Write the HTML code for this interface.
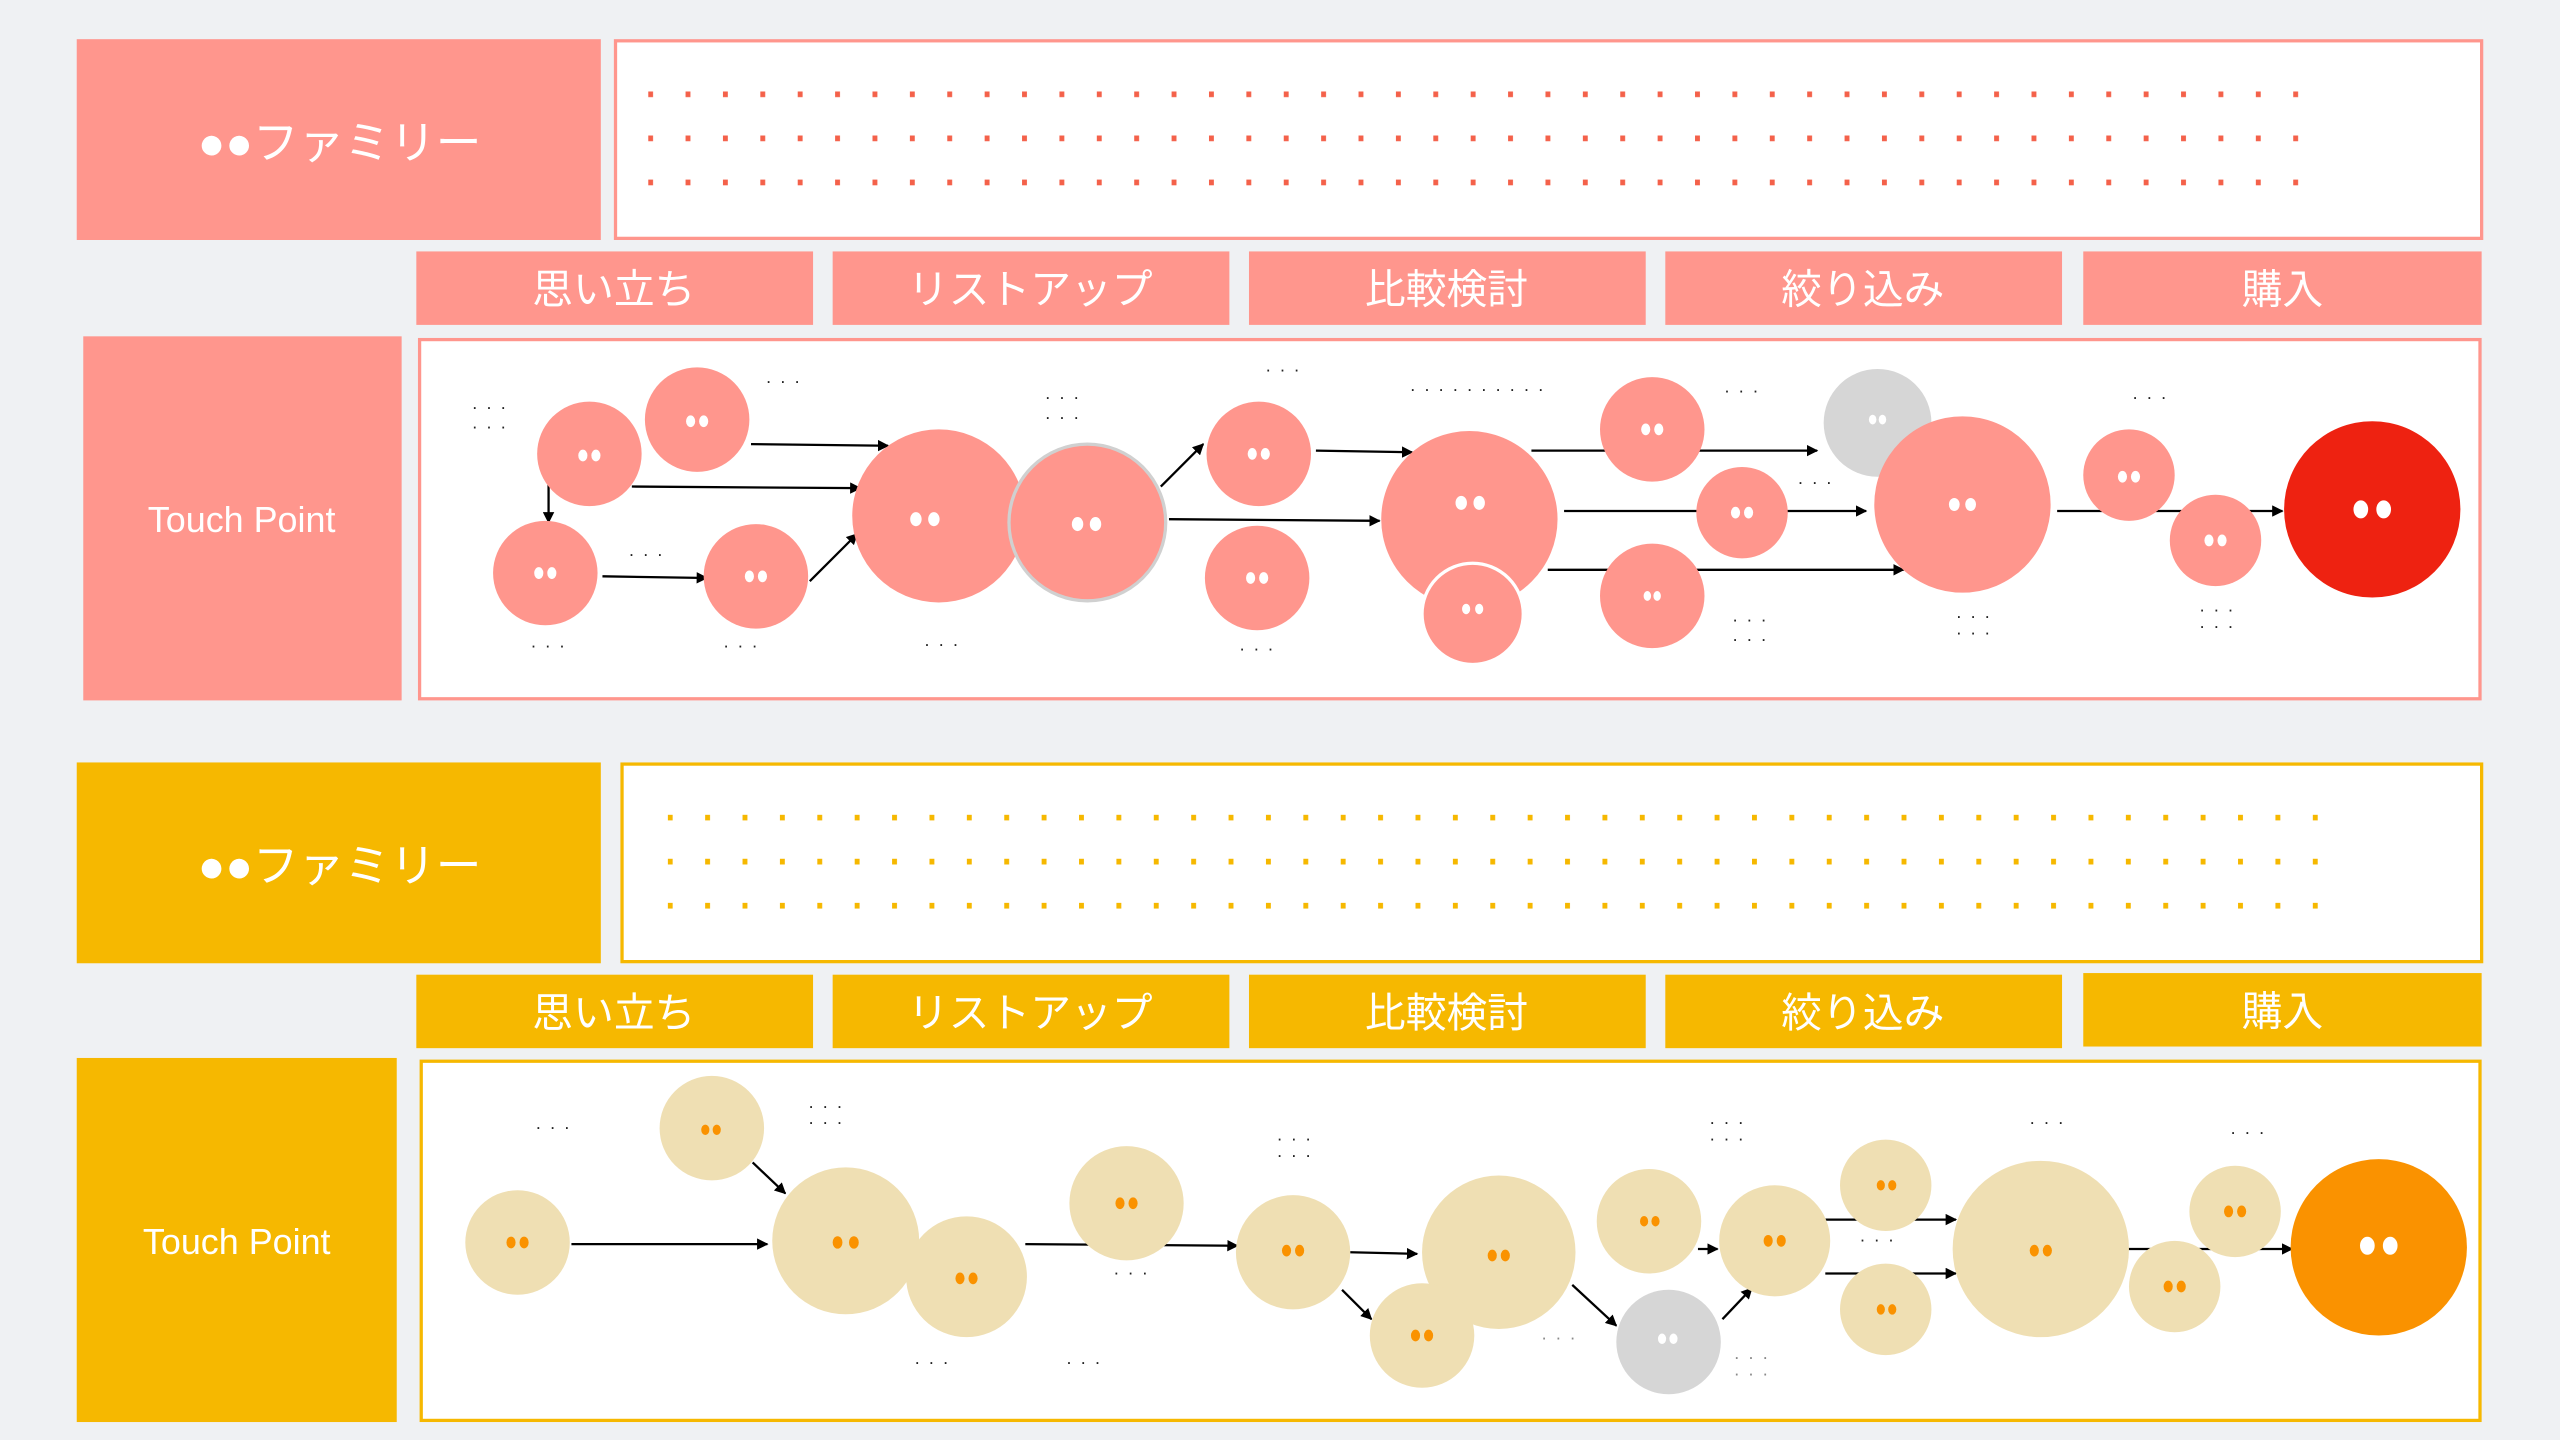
<!DOCTYPE html>
<html><head><meta charset="utf-8"><style>
html,body{margin:0;padding:0;background:#eff1f3;}
svg{display:block;}
.jp{font-family:"Liberation Sans","Noto Sans CJK JP",sans-serif;fill:#fff;}
.d{font-family:"Liberation Sans",sans-serif;font-size:11px;fill:#222;text-anchor:middle;letter-spacing:1px;}
</style></head><body>
<svg width="2560" height="1440" viewBox="0 0 1568 882" xmlns="http://www.w3.org/2000/svg">
<defs>
<pattern id="pd" x="397" y="56" width="22.9" height="27" patternUnits="userSpaceOnUse"><rect x="0" y="0" width="3" height="3.5" fill="#f4614a"/></pattern>
<pattern id="yd" x="409" y="499" width="22.9" height="27" patternUnits="userSpaceOnUse"><rect x="0" y="0" width="3" height="3.5" fill="#f6b800"/></pattern>
<marker id="a" viewBox="0 0 10 10" refX="9" refY="5" markerWidth="5" markerHeight="5" orient="auto"><path d="M0,0 L10,5 L0,10 z" fill="#000"/></marker>
</defs>
<rect width="1568" height="882" fill="#eff1f3"/>

<!-- TOP -->
<rect x="47" y="24" width="321" height="123" fill="#ff968d"/>
<text class="jp" x="208" y="97" font-size="28" text-anchor="middle">●●ファミリー</text>
<rect x="377" y="25" width="1143" height="121" fill="#fff" stroke="#ff968d" stroke-width="2"/>
<rect x="397" y="56" width="1012" height="60" fill="url(#pd)"/>
<g fill="#ff968d">
<rect x="255" y="154" width="243" height="45"/><rect x="510" y="154" width="243" height="45"/><rect x="765" y="154" width="243" height="45"/><rect x="1020" y="154" width="243" height="45"/><rect x="1276" y="154" width="244" height="45"/>
<rect x="51" y="206" width="195" height="223"/>
</g>
<g class="jp" font-size="25" text-anchor="middle">
<text x="376" y="186">思い立ち</text><text x="631" y="186">リストアップ</text><text x="886" y="186">比較検討</text><text x="1141" y="186">絞り込み</text><text x="1398" y="186">購入</text>
</g>
<text class="jp" x="148" y="326" font-size="22" text-anchor="middle">Touch Point</text>
<rect x="257" y="208" width="1262" height="220" fill="#fff" stroke="#ff968d" stroke-width="2"/>

<g stroke="#000" stroke-width="1.4" marker-end="url(#a)" fill="none">
<line x1="336" y1="296" x2="336" y2="320"/>
<line x1="460" y1="272" x2="544" y2="273"/>
<line x1="387" y1="298" x2="527" y2="299"/>
<line x1="369" y1="353" x2="433" y2="354"/>
<line x1="496" y1="356" x2="525" y2="327"/>
<line x1="711" y1="298" x2="737" y2="272"/>
<line x1="716" y1="318" x2="845" y2="319"/>
<line x1="806" y1="276" x2="865" y2="277"/>
<line x1="938" y1="276" x2="1113" y2="276"/>
<line x1="958" y1="313" x2="1143" y2="313"/>
<line x1="948" y1="349" x2="1166" y2="349"/>
<line x1="1260" y1="313" x2="1398" y2="313"/>
</g>
<g fill="#ff968d">
<circle cx="361" cy="278" r="32"/><circle cx="427" cy="257" r="32"/><circle cx="334" cy="351" r="32"/><circle cx="463" cy="353" r="32"/>
<circle cx="575" cy="316" r="53"/><circle cx="666" cy="320" r="48" stroke="#d0d0d0" stroke-width="2"/>
<circle cx="771" cy="278" r="32"/><circle cx="770" cy="354" r="32"/>
<circle cx="900" cy="318" r="54"/><circle cx="902" cy="376" r="31" stroke="#fff" stroke-width="2"/>
<circle cx="1012" cy="263" r="32"/><circle cx="1067" cy="314" r="28"/><circle cx="1012" cy="365" r="32"/>
<circle cx="1150" cy="259" r="33" fill="#d6d6d6"/>
<circle cx="1202" cy="309" r="54"/><circle cx="1304" cy="291" r="28"/><circle cx="1357" cy="331" r="28"/>
<circle cx="1453" cy="312" r="54" fill="#ee2211"/>
</g>
<g fill="#fff">
<ellipse cx="357" cy="279" rx="2.8" ry="3.6"/><ellipse cx="365" cy="279" rx="2.8" ry="3.6"/>
<ellipse cx="423" cy="258" rx="2.8" ry="3.6"/><ellipse cx="431" cy="258" rx="2.8" ry="3.6"/>
<ellipse cx="330" cy="351" rx="2.8" ry="3.6"/><ellipse cx="338" cy="351" rx="2.8" ry="3.6"/>
<ellipse cx="459" cy="353" rx="2.8" ry="3.6"/><ellipse cx="467" cy="353" rx="2.8" ry="3.6"/>
<ellipse cx="561" cy="318" rx="3.5" ry="4.3"/><ellipse cx="572" cy="318" rx="3.5" ry="4.3"/>
<ellipse cx="660" cy="321" rx="3.5" ry="4.3"/><ellipse cx="671" cy="321" rx="3.5" ry="4.3"/>
<ellipse cx="767" cy="278" rx="2.8" ry="3.6"/><ellipse cx="775" cy="278" rx="2.8" ry="3.6"/>
<ellipse cx="766" cy="354" rx="2.8" ry="3.6"/><ellipse cx="774" cy="354" rx="2.8" ry="3.6"/>
<ellipse cx="895" cy="308" rx="3.5" ry="4.3"/><ellipse cx="906" cy="308" rx="3.5" ry="4.3"/>
<ellipse cx="898" cy="373" rx="2.5" ry="3.2"/><ellipse cx="906" cy="373" rx="2.5" ry="3.2"/>
<ellipse cx="1008" cy="263" rx="2.8" ry="3.6"/><ellipse cx="1016" cy="263" rx="2.8" ry="3.6"/>
<ellipse cx="1063" cy="314" rx="2.8" ry="3.6"/><ellipse cx="1071" cy="314" rx="2.8" ry="3.6"/>
<ellipse cx="1009" cy="365" rx="2.3" ry="3"/><ellipse cx="1015" cy="365" rx="2.3" ry="3"/>
<ellipse cx="1147" cy="257" rx="2.3" ry="3"/><ellipse cx="1153" cy="257" rx="2.3" ry="3"/>
<ellipse cx="1197" cy="309" rx="3.3" ry="4"/><ellipse cx="1207" cy="309" rx="3.3" ry="4"/>
<ellipse cx="1300" cy="292" rx="2.8" ry="3.6"/><ellipse cx="1308" cy="292" rx="2.8" ry="3.6"/>
<ellipse cx="1353" cy="331" rx="2.8" ry="3.6"/><ellipse cx="1361" cy="331" rx="2.8" ry="3.6"/>
<ellipse cx="1446" cy="312" rx="4.5" ry="5.5"/><ellipse cx="1460" cy="312" rx="4.5" ry="5.5"/>
</g>
<g class="d">
<text x="300" y="253">· · ·</text><text x="300" y="265">· · ·</text><text x="480" y="237">· · ·</text>
<text x="336" y="399">· · ·</text><text x="454" y="399">· · ·</text><text x="577" y="398">· · ·</text>
<text x="651" y="247">· · ·</text><text x="651" y="259">· · ·</text><text x="396" y="343">· · ·</text>
<text x="786" y="230">· · ·</text><text x="770" y="401">· · ·</text><text x="905" y="242">· · · · · · · · · ·</text>
<text x="1067" y="243">· · ·</text><text x="1112" y="299">· · ·</text><text x="1072" y="383">· · ·</text><text x="1072" y="395">· · ·</text>
<text x="1209" y="381">· · ·</text><text x="1209" y="391">· · ·</text><text x="1317" y="247">· · ·</text>
<text x="1358" y="377">· · ·</text><text x="1358" y="387">· · ·</text>
</g>

<!-- BOTTOM -->
<rect x="47" y="467" width="321" height="123" fill="#f6b800"/>
<text class="jp" x="208" y="540" font-size="28" text-anchor="middle">●●ファミリー</text>
<rect x="381" y="468" width="1139" height="121" fill="#fff" stroke="#f6b800" stroke-width="2"/>
<rect x="409" y="499" width="1012" height="60" fill="url(#yd)"/>
<g fill="#f6b800">
<rect x="255" y="597" width="243" height="45"/><rect x="510" y="597" width="243" height="45"/><rect x="765" y="597" width="243" height="45"/><rect x="1020" y="597" width="243" height="45"/><rect x="1276" y="596" width="244" height="45"/>
<rect x="47" y="648" width="196" height="223"/>
</g>
<g class="jp" font-size="25" text-anchor="middle">
<text x="376" y="629">思い立ち</text><text x="631" y="629">リストアップ</text><text x="886" y="629">比較検討</text><text x="1141" y="629">絞り込み</text><text x="1398" y="628">購入</text>
</g>
<text class="jp" x="145" y="768" font-size="22" text-anchor="middle">Touch Point</text>
<rect x="258" y="650" width="1261" height="220" fill="#fff" stroke="#f6b800" stroke-width="2"/>

<g stroke="#000" stroke-width="1.4" marker-end="url(#a)" fill="none">
<line x1="350" y1="762" x2="470" y2="762"/>
<line x1="461" y1="712" x2="481" y2="731"/>
<line x1="628" y1="762" x2="758" y2="763"/>
<line x1="827" y1="767" x2="868" y2="768"/>
<line x1="822" y1="790" x2="840" y2="808"/>
<line x1="963" y1="787" x2="990" y2="812"/>
<line x1="1055" y1="808" x2="1073" y2="789"/>
<line x1="1040" y1="765" x2="1052" y2="765"/>
<line x1="1118" y1="747" x2="1198" y2="747"/>
<line x1="1118" y1="780" x2="1198" y2="780"/>
<line x1="1302" y1="765" x2="1404" y2="765"/>
</g>
<g fill="#efdfb3">
<circle cx="317" cy="761" r="32"/><circle cx="436" cy="691" r="32"/><circle cx="518" cy="760" r="45"/><circle cx="592" cy="782" r="37"/>
<circle cx="690" cy="737" r="35"/><circle cx="792" cy="767" r="35"/><circle cx="918" cy="767" r="47"/><circle cx="871" cy="818" r="32"/>
<circle cx="1010" cy="748" r="32"/><circle cx="1022" cy="822" r="32" fill="#d6d6d6"/><circle cx="1087" cy="760" r="34"/>
<circle cx="1155" cy="726" r="28"/><circle cx="1155" cy="802" r="28"/><circle cx="1250" cy="765" r="54"/>
<circle cx="1332" cy="788" r="28"/><circle cx="1369" cy="742" r="28"/><circle cx="1457" cy="764" r="54" fill="#fa9200"/>
</g>
<g fill="#fa9200">
<ellipse cx="313" cy="761" rx="2.8" ry="3.6"/><ellipse cx="321" cy="761" rx="2.8" ry="3.6"/>
<ellipse cx="432" cy="692" rx="2.5" ry="3.2"/><ellipse cx="439" cy="692" rx="2.5" ry="3.2"/>
<ellipse cx="513" cy="761" rx="3" ry="3.8"/><ellipse cx="523" cy="761" rx="3" ry="3.8"/>
<ellipse cx="588" cy="783" rx="2.8" ry="3.6"/><ellipse cx="596" cy="783" rx="2.8" ry="3.6"/>
<ellipse cx="686" cy="737" rx="2.8" ry="3.6"/><ellipse cx="694" cy="737" rx="2.8" ry="3.6"/>
<ellipse cx="788" cy="766" rx="2.8" ry="3.6"/><ellipse cx="796" cy="766" rx="2.8" ry="3.6"/>
<ellipse cx="914" cy="769" rx="2.8" ry="3.6"/><ellipse cx="922" cy="769" rx="2.8" ry="3.6"/>
<ellipse cx="867" cy="818" rx="2.8" ry="3.6"/><ellipse cx="875" cy="818" rx="2.8" ry="3.6"/>
<ellipse cx="1007" cy="748" rx="2.5" ry="3.2"/><ellipse cx="1014" cy="748" rx="2.5" ry="3.2"/>
<ellipse cx="1083" cy="760" rx="2.8" ry="3.6"/><ellipse cx="1091" cy="760" rx="2.8" ry="3.6"/>
<ellipse cx="1152" cy="726" rx="2.5" ry="3.2"/><ellipse cx="1159" cy="726" rx="2.5" ry="3.2"/>
<ellipse cx="1152" cy="802" rx="2.5" ry="3.2"/><ellipse cx="1159" cy="802" rx="2.5" ry="3.2"/>
<ellipse cx="1246" cy="766" rx="2.8" ry="3.6"/><ellipse cx="1254" cy="766" rx="2.8" ry="3.6"/>
<ellipse cx="1328" cy="788" rx="2.8" ry="3.6"/><ellipse cx="1336" cy="788" rx="2.8" ry="3.6"/>
<ellipse cx="1365" cy="742" rx="2.8" ry="3.6"/><ellipse cx="1373" cy="742" rx="2.8" ry="3.6"/>
</g>
<g fill="#fff">
<ellipse cx="1018" cy="820" rx="2.5" ry="3.2"/><ellipse cx="1025" cy="820" rx="2.5" ry="3.2"/>
<ellipse cx="1450" cy="763" rx="4.5" ry="5.5"/><ellipse cx="1464" cy="763" rx="4.5" ry="5.5"/>
</g>
<g class="d">
<text x="339" y="694">· · ·</text><text x="506" y="681">· · ·</text><text x="506" y="691">· · ·</text>
<text x="571" y="838">· · ·</text><text x="664" y="838">· · ·</text><text x="693" y="783">· · ·</text>
<text x="793" y="701">· · ·</text><text x="793" y="711">· · ·</text><text x="955" y="823" fill="#888">· · ·</text>
<text x="1058" y="691">· · ·</text><text x="1058" y="701">· · ·</text>
<text x="1073" y="835" fill="#888">· · ·</text><text x="1073" y="845" fill="#888">· · ·</text>
<text x="1150" y="763">· · ·</text><text x="1254" y="691">· · ·</text><text x="1377" y="697">· · ·</text>
</g>
</svg>
</body></html>
